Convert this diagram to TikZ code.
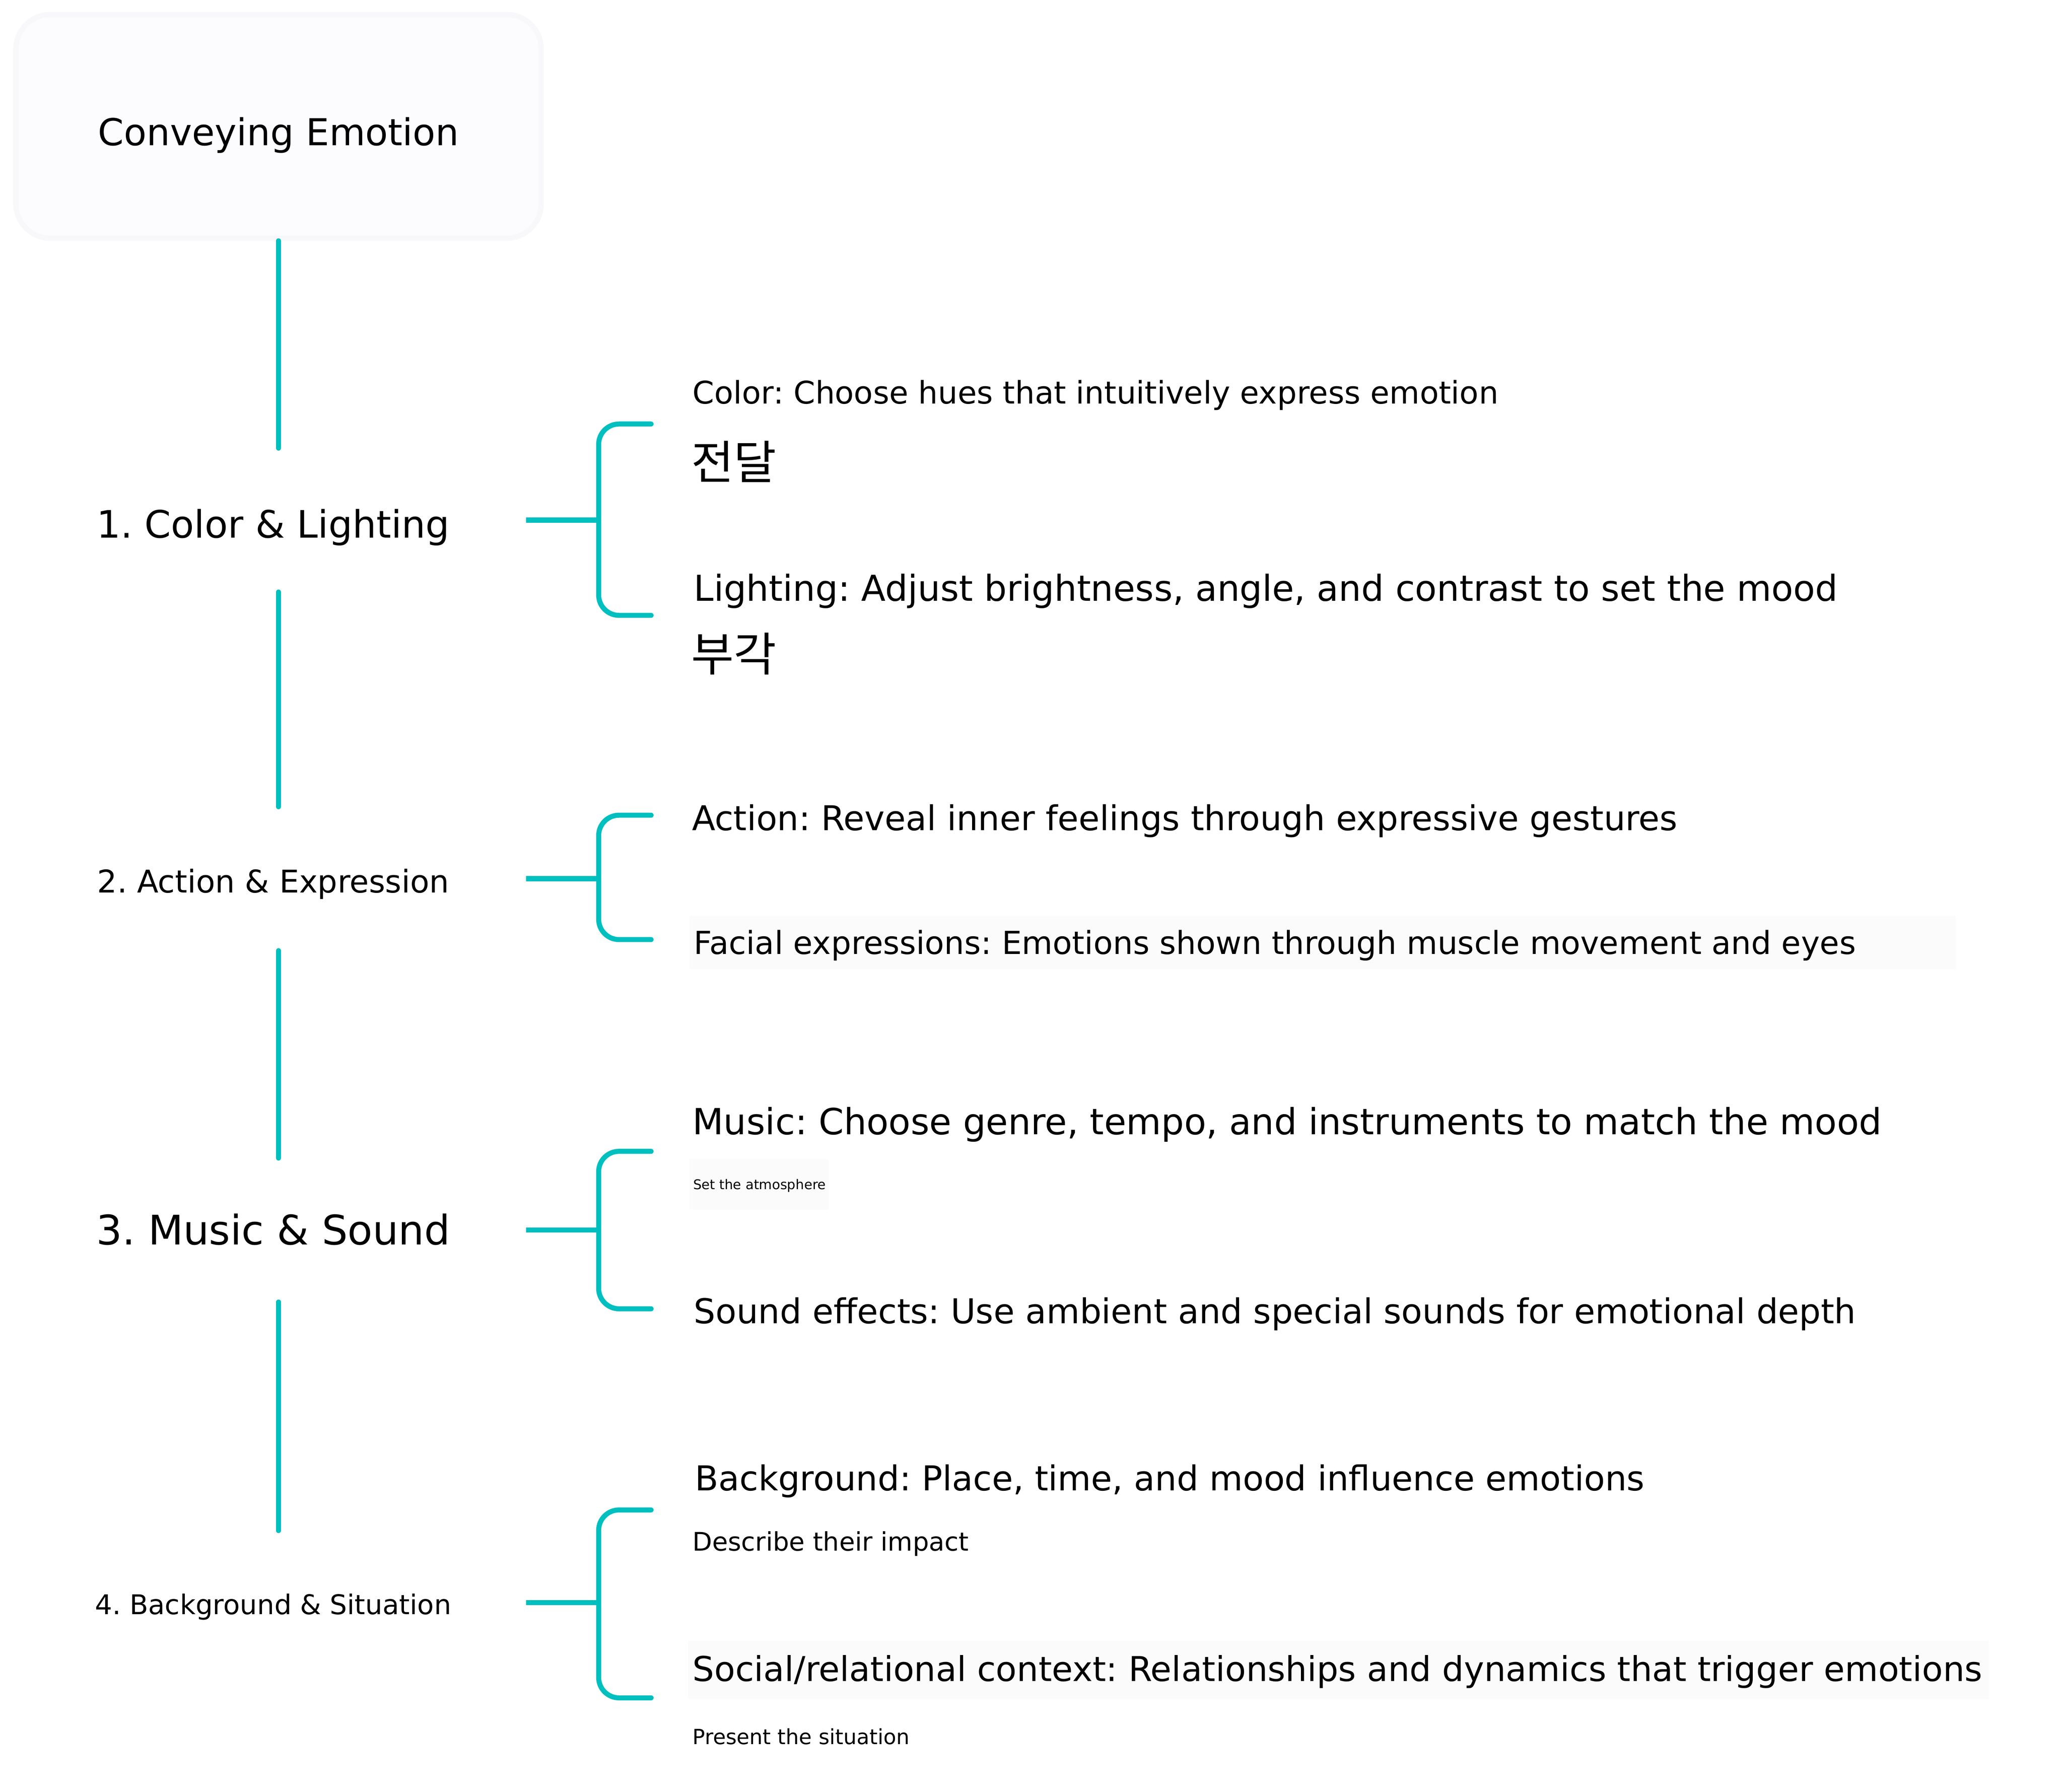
\documentclass[tikz,border=0pt]{standalone}
\usepackage{fontspec}
\setmainfont{DejaVu Sans}
\newfontfamily\hangul{Noto Sans CJK KR}
\frenchspacing
\definecolor{mindteal}{RGB}{0,191,191}
\definecolor{rootfill}{RGB}{252,252,255}
\definecolor{rootedge}{RGB}{248,248,250}
\definecolor{notefill}{RGB}{251,251,251}
\newcommand{\fs}[1]{\fontsize{#1pt}{#1pt}\selectfont}

\begin{document}
\begin{tikzpicture}[x=0.5pt,y=-0.5pt,
  branch/.style={draw=mindteal,line width=1.9pt,line cap=round},
  topic/.style={inner sep=0pt,minimum width=190.5pt,anchor=base},
  leaf/.style={inner sep=0pt,anchor=base west}]
  \useasboundingbox (0,0) rectangle (1559,1354);
  % faint panels behind some leaves
  \fill[notefill] (521,692) rectangle (1478,732) (521,876) rectangle (626,914) (520,1240) rectangle (1503,1284);
  \node[topic,minimum width=198.5pt,text height=49.45pt,text depth=35.05pt,fill=rootfill,draw=rootedge,line width=2pt,rounded corners=13pt,font=\fs{14}] (root) at (210.5,109.9) {Conveying Emotion};
  \foreach \n/\y/\b/\s/\t in {1/393/406.4/14.28/{1. Color \& Lighting},2/664/674.6/11.82/{2. Action \& Expression},3/929.5/940.4/15.4/{3. Music \& Sound},4/1211/1220/10.25/{4. Background \& Situation}}{
    \pgfmathsetmacro\th{(\b-\y+54)/2}
    \pgfmathsetmacro\td{(\y+54-\b)/2}
    \node[topic,text height=\th pt,text depth=\td pt,font=\fs{\s}] (t\n) at (206.5,\b) {\t};
  }
  % trunk
  \draw[branch] (root.south) -- (root.south |- t1.north);
  \foreach \a/\b in {1/2,2/3,3/4} \draw[branch] (t\a.south -| root.south) -- (t\b.north -| root.south);
  % brackets
  \foreach \n/\u/\v in {1/320.4/465,2/616/710,3/870/989,4/1141/1283}{
    \coordinate (u\n) at (492,\u);
    \coordinate (v\n) at (492,\v);
    \draw[branch,line cap=butt] (t\n.east) -- ++(55,0) coordinate (k\n);
    \draw[branch,rounded corners=7.7pt] (u\n) -| (k\n) |- (v\n);
  }
  % leaves
  \foreach \n/\x/\b/\s/\t in {
    l1a/523/305/11.75/{Color: Choose hues that intuitively express emotion},
    l1b/522/362/17.5/{\hangul 전달},
    l2a/524/454/13.48/{Lighting: Adjust brightness, angle, and contrast to set the mood},
    l2b/522/507/17.5/{\hangul 부각},
    l3a/522.5/627.5/12.91/{Action: Reveal inner feelings through expressive gestures},
    l4a/524/721/11.99/{Facial expressions: Emotions shown through muscle movement and eyes},
    l5a/523/857.3/13.61/{Music: Choose genre, tempo, and instruments to match the mood},
    l5b/523.5/898.7/5.05/{Set the atmosphere},
    l6a/524/1000.2/12.93/{Sound effects: Use ambient and special sounds for emotional depth},
    l7a/524.8/1126.3/12.95/{Background: Place, time, and mood influence emotions},
    l7b/523/1172/9.66/{Describe their impact},
    l8a/523/1270.5/12.92/{Social/relational context: Relationships and dynamics that trigger emotions},
    l8b/523/1318/7.9/{Present the situation}}
    \node[leaf,font=\fs{\s}] (\n) at (\x,\b) {\t};
\end{tikzpicture}
\end{document}
